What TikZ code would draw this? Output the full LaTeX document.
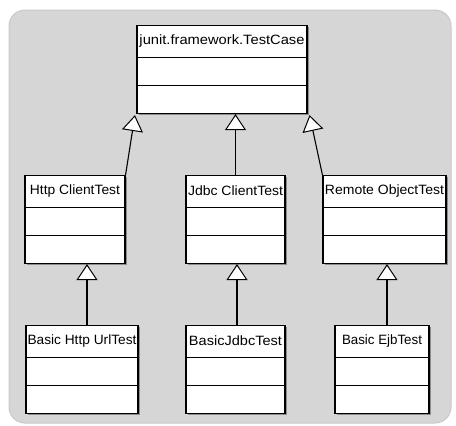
\documentclass[tikz,border=0pt]{standalone}
\usepackage{fontspec}
\setmainfont{Liberation Sans}
\usetikzlibrary{arrows.meta,shadows}
\definecolor{bgc}{RGB}{214,214,214}
\definecolor{bgline}{RGB}{200,200,200}
\tikzset{
  clsbox/.style={draw=black, fill=white, line width=1.1pt, inner sep=0pt, minimum height=88pt,
    drop shadow={shadow xshift=1.5pt, shadow yshift=-1.5pt, fill=black!45, opacity=1}},
  lbl/.style={font=\fontsize{13.5}{14}\selectfont, inner sep=0pt},
  sep/.style={line width=1pt},
  inh/.style={line width=1.1pt, -{Triangle[length=16pt,width=21pt,fill=white,line width=1pt]}}
}
\newcommand\umlclass[6]{% name, center x, top y, width, label, label width
  \node[clsbox, minimum width=#4pt, anchor=north] (#1) at (#2,#3) {};
  \node[lbl] (#1-t) at ([yshift=-16pt]#1.north) {\resizebox{#6pt}{\height}{#5}};
  \draw[sep] ([yshift=-32pt]#1.north west) -- ([yshift=-32pt]#1.north east);
  \draw[sep] ([yshift=-60pt]#1.north west) -- ([yshift=-60pt]#1.north east);
}
\begin{document}
\begin{tikzpicture}[x=1pt,y=-1pt]
\useasboundingbox (0,0) rectangle (456,426);
\draw[fill=bgc, draw=bgline, line width=1pt, rounded corners=16pt] (9,10) rectangle (451,423);
\umlclass{tc}{222}{25}{170}{junit.framework.TestCase}{165}
\umlclass{hct}{75}{175}{100}{Http ClientTest}{90}
\umlclass{jct}{235.5}{175}{99}{Jdbc ClientTest}{95}
\umlclass{rot}{384.5}{175}{123}{Remote ObjectTest}{119}
\umlclass{bhu}{82}{325}{112}{Basic Http UrlTest}{109}
\umlclass{bjt}{235.5}{325}{99}{BasicJdbcTest}{93}
\umlclass{bej}{382}{325}{94}{Basic EjbTest}{80}
\draw[inh] (hct.north east) -- ([xshift=-1.5pt,yshift=-1pt]tc.south west);
\draw[inh] (jct.north) -- (jct.north |- tc.south);
\draw[inh] (rot.north west) -- ([xshift=2pt,yshift=-1pt]tc.south east);
\draw[inh] ([xshift=5pt]bhu.north) -- ([xshift=5pt]bhu.north |- hct.south);
\draw[inh] ([xshift=1.5pt]bjt.north) -- ([xshift=1.5pt]bjt.north |- jct.south);
\draw[inh] ([xshift=5pt]bej.north) -- ([xshift=5pt]bej.north |- rot.south);
\end{tikzpicture}
\end{document}
